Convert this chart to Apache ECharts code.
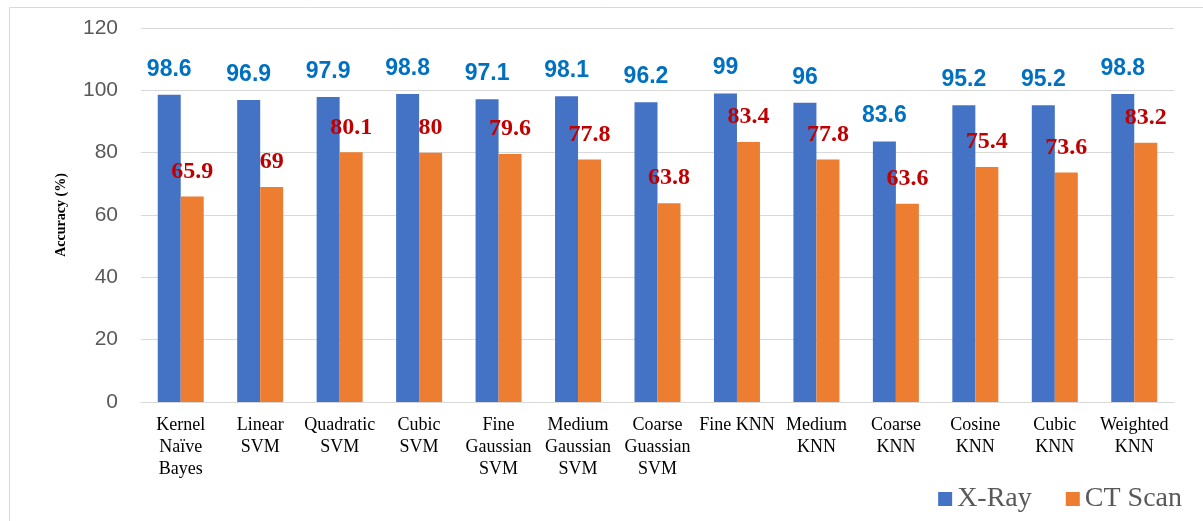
<!DOCTYPE html>
<html><head><meta charset="utf-8">
<script src="https://cdn.jsdelivr.net/npm/echarts@6/dist/echarts.min.js"></script>
<style>html,body{margin:0;padding:0;background:#fff}#c{width:1203px;height:521px}</style>
</head><body><div id="c"></div>
<script>
const categories = ['Kernel\nNaïve\nBayes','Linear\nSVM','Quadratic\nSVM','Cubic\nSVM','Fine\nGaussian\nSVM','Medium\nGaussian\nSVM','Coarse\nGuassian\nSVM','Fine KNN','Medium\nKNN','Coarse\nKNN','Cosine\nKNN','Cubic\nKNN','Weighted\nKNN'];
const xray = [98.6,96.9,97.9,98.8,97.1,98.1,96.2,99,96,83.6,95.2,95.2,98.8];
const ctscan = [65.9,69,80.1,80,79.6,77.8,63.8,83.4,77.8,63.6,75.4,73.6,83.2];
const yTicks = [0,20,40,60,80,100,120];

const chart = echarts.init(document.getElementById('c'), null, {renderer:'canvas'});
chart.setOption({
  animation:false,
  backgroundColor:'#fff',
  graphic:[{type:'rect',shape:{x:9.5,y:7.5,width:1220,height:540},style:{fill:'none',stroke:'#d9d9d9',lineWidth:1},silent:true,z:-1}],
  grid:{left:141,right:29,top:28,bottom:119,containLabel:false},
  legend:{
    right:16,bottom:3,itemWidth:14,itemHeight:14,itemGap:34,icon:'rect',
    textStyle:{fontFamily:'Liberation Serif',fontSize:28,color:'#595959'},
    data:['X-Ray','CT Scan']
  },
  xAxis:{
    type:'category',data:categories,
    axisLine:{lineStyle:{color:'#d9d9d9',width:1}},
    axisTick:{show:false},
    axisLabel:{interval:0,margin:12,fontFamily:'Liberation Serif',fontSize:18,color:'#000',lineHeight:22}
  },
  yAxis:{
    type:'value',min:yTicks[0],max:yTicks[yTicks.length-1],interval:20,
    name:'Accuracy (%)',nameLocation:'middle',nameGap:73,nameRotate:90,
    nameTextStyle:{fontFamily:'Liberation Serif',fontWeight:'bold',fontSize:14,color:'#000'},
    axisLine:{show:false},axisTick:{show:false},
    axisLabel:{margin:23,fontFamily:'Liberation Sans',fontSize:21,color:'#595959'},
    splitLine:{lineStyle:{color:'#d9d9d9',width:1}}
  },
  series:[
    {name:'X-Ray',type:'bar',data:xray,barWidth:23,barGap:'0%',
     itemStyle:{color:'#4472C4'},
     label:{show:true,position:'top',distance:14,fontFamily:'Liberation Sans',fontWeight:'bold',fontSize:23,color:'#0070C0'}},
    {name:'CT Scan',type:'bar',data:ctscan,barWidth:23,
     itemStyle:{color:'#ED7D31'},
     label:{show:true,position:'top',distance:13,fontFamily:'Liberation Serif',fontWeight:'bold',fontSize:24,color:'#C00000'}}
  ]
});
</script></body></html>
